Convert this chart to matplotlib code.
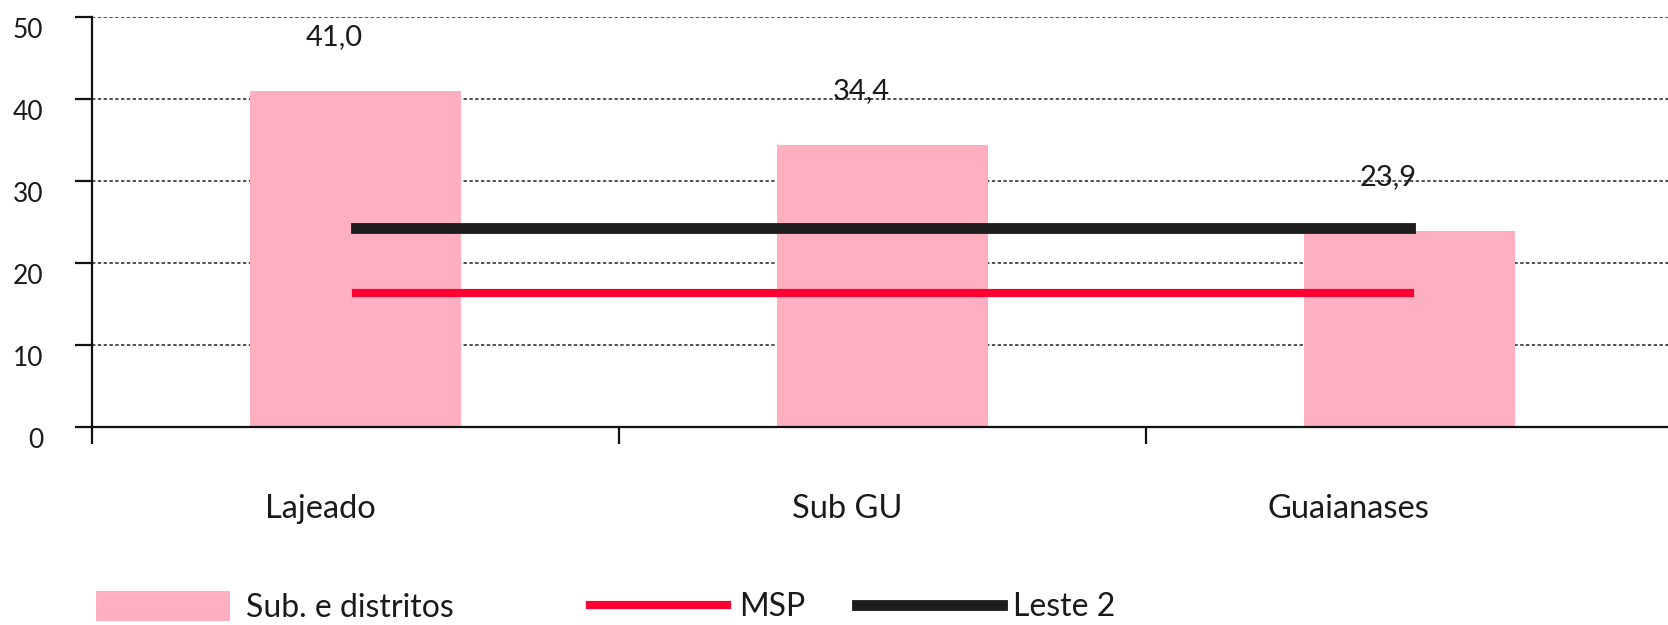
import numpy as np
import matplotlib
matplotlib.use('Agg')
import matplotlib.pyplot as plt
import matplotlib.transforms as mtransforms
from matplotlib.patches import Patch
from matplotlib.lines import Line2D

categories = ['Lajeado', 'Sub GU', 'Guaianases']
sub_values = [41.0, 34.4, 23.9]
msp_values = [16.3, 16.3, 16.3]
leste2_values = [24.3, 24.3, 24.3]
value_labels = ['41,0', '34,4', '23,9']
yticks = [0, 10, 20, 30, 40, 50]
legend_labels = ['Sub. e distritos', 'MSP', 'Leste 2']

PINK = '#FFB0C0'
RED = '#FF0033'
BLACK = '#1E1E1E'
TXT = '#1a1a1a'

plt.rcParams['font.family'] = ['Lato', 'DejaVu Sans']

W, H = 1668, 625
fig = plt.figure(figsize=(W / 100, H / 100), dpi=100)
ax = fig.add_axes([92 / W, 198 / H, (1673 - 92) / W, 410 / H])

x = np.arange(len(categories))
ax.bar(x, sub_values, width=0.40, color=PINK, zorder=2)
ax.plot(x, leste2_values, color=BLACK, lw=7.8, solid_capstyle='projecting', zorder=3)
ax.plot(x, msp_values, color=RED, lw=5.9, solid_capstyle='projecting', zorder=3)

ax.set_xlim(-0.5, 2.5)
ax.set_ylim(0, 50)
ax.set_yticks(yticks)
ax.set_axisbelow(True)
ax.yaxis.grid(True, linestyle=(0, (2.2, 1.6)), color='#222222', lw=1.1)

for s in ['top', 'right']:
    ax.spines[s].set_visible(False)
for s in ['left', 'bottom']:
    ax.spines[s].set_linewidth(1.6)
    ax.spines[s].set_color('#111111')

ax.tick_params(axis='y', length=12, width=1.6, color='#111111', pad=23,
               labelsize=19, labelcolor=TXT)
offy = mtransforms.ScaledTranslation(0, -0.11, fig.dpi_scale_trans)
for lab in ax.get_yticklabels():
    lab.set_transform(lab.get_transform() + offy)

# x: ticks at category boundaries, labels at centers
ax.set_xticks([-0.5, 0.5, 1.5])
ax.set_xticklabels([])
ax.tick_params(axis='x', which='major', length=12, width=1.6, color='#111111')
ax.set_xticks(x, minor=True)
ax.tick_params(axis='x', which='minor', length=0, pad=48, labelsize=23.5, labelcolor=TXT)
ax.set_xticklabels(categories, minor=True)
offx = mtransforms.ScaledTranslation(0.20, 0, fig.dpi_scale_trans)
for lab in ax.get_xticklabels(minor=True):
    lab.set_horizontalalignment('right')
    lab.set_transform(lab.get_transform() + offx)

for xi, v, t in zip(x, sub_values, value_labels):
    ax.annotate(t, (xi, v), xytext=(7, 46), textcoords='offset pixels',
                ha='right', va='baseline', fontsize=21, color=TXT, zorder=4)

# legends
handles = [Patch(facecolor=PINK, edgecolor='none'),
           Line2D([], [], color=RED, lw=5.9),
           Line2D([], [], color=BLACK, lw=7.8)]
specs = [(96, 4.2, 0.5, 1.05), (590, 4.3, 0.38, 0.7), (857, 4.55, 0.32, 0.7)]
for h, lab, (x0, hl, tp, hh) in zip(handles, legend_labels, specs):
    fig.legend([h], [lab], loc='center left', bbox_to_anchor=(x0 / W, 18 / H),
               frameon=False, fontsize=23, handlelength=hl, handletextpad=tp,
               handleheight=hh, borderpad=0, borderaxespad=0, labelcolor=TXT)

fig.savefig('out.png', dpi=100)
